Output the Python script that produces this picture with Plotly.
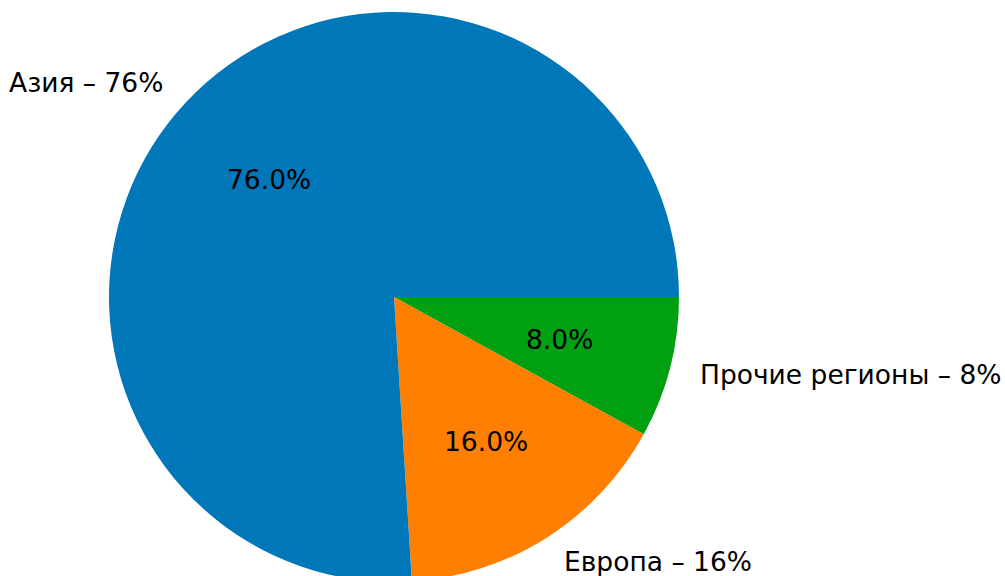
import math
import plotly.graph_objects as go

labels = ["Азия", "Европа", "Прочие регионы"]
values = [76, 16, 8]
colors = ["#0077b8", "#ff8000", "#00a012"]
outer_labels = ["Азия – 76%", "Европа – 16%", "Прочие регионы – 8%"]

W, H = 1005, 594
M_T, M_B = 12, 12
R_PX = (H - M_T - M_B) / 2
CX_PX = 394
plot_w, plot_h = W, H - M_T - M_B
dom_x = [(CX_PX - R_PX) / plot_w, (CX_PX + R_PX) / plot_w]

# plotly draws clockwise here; feed reversed order so slices run counterclockwise from 3 o'clock
fig = go.Figure(go.Pie(
    labels=labels[::-1], values=values[::-1], sort=False,
    direction="clockwise", rotation=90,
    marker=dict(colors=colors[::-1], line=dict(width=0)),
    textinfo="none", hoverinfo="skip", showlegend=False,
    domain=dict(x=dom_x, y=[0, 1]),
))

cx = (dom_x[0] + dom_x[1]) / 2
cy = 0.5
rx = R_PX / plot_w
ry = R_PX / plot_h
total = sum(values)
font = dict(family="DejaVu Sans", size=26.5, color="black")
ann = []
start = 0.0
for v, lab in zip(values, outer_labels):
    frac = v / total
    mid = (start + frac / 2) * 2 * math.pi
    start += frac
    c, s = math.cos(mid), math.sin(mid)
    ann.append(dict(x=cx + 1.1 * rx * c, y=cy + 1.1 * ry * s, xref="paper", yref="paper",
                    text=lab, showarrow=False, font=font,
                    xanchor="left" if c > 0 else "right", yanchor="middle"))
    ann.append(dict(x=cx + 0.6 * rx * c, y=cy + 0.6 * ry * s, xref="paper", yref="paper",
                    text=f"{100 * frac:.1f}%", showarrow=False, font=font,
                    xanchor="center", yanchor="middle"))

fig.update_layout(width=W, height=H, margin=dict(l=0, r=0, t=M_T, b=M_B),
                  paper_bgcolor="white", plot_bgcolor="white", annotations=ann)

fig.write_html("out.html", config={"displayModeBar": False},
               post_script="document.body.style.margin='0';document.body.style.overflow='hidden';")
